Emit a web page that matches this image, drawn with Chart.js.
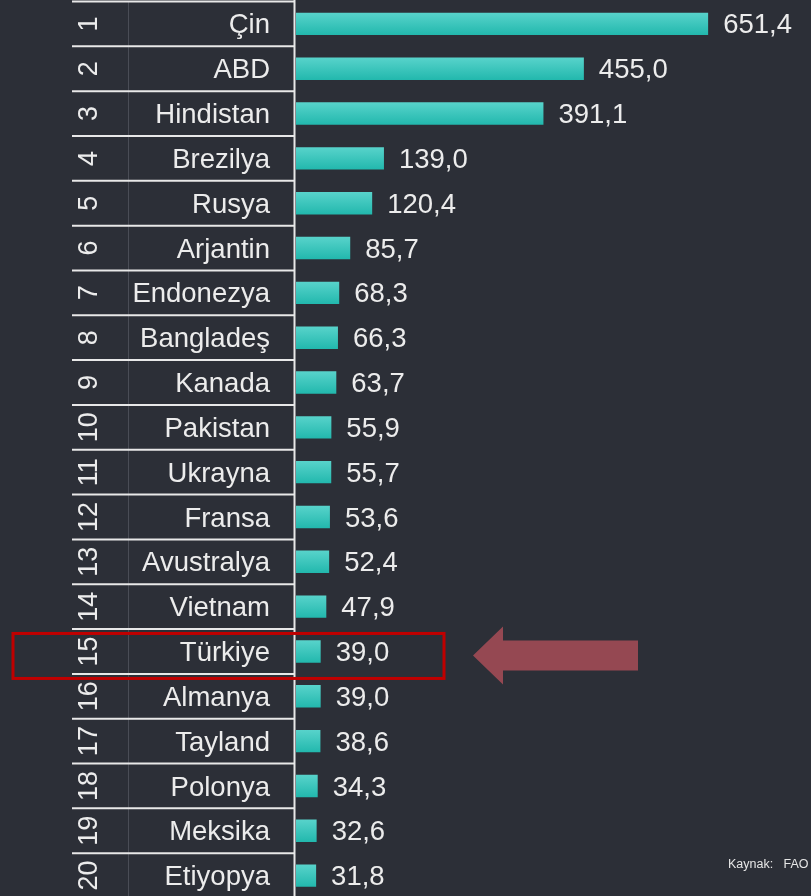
<!DOCTYPE html>
<html>
<head>
<meta charset="utf-8">
<script src="https://cdn.jsdelivr.net/npm/chart.js@4/dist/chart.umd.min.js"></script>
<style>
  html, body { margin: 0; padding: 0; background: #2c2f37; overflow: hidden; }
  canvas { display: block; }
</style>
</head>
<body>
<canvas id="chart" width="811" height="898"></canvas>
<script>
let ranks = ["1","2","3","4","5","6","7","8","9","10","11","12","13","14","15","16","17","18","19","20"];
let countries = ["Çin","ABD","Hindistan","Brezilya","Rusya","Arjantin","Endonezya","Bangladeş","Kanada","Pakistan",
  "Ukrayna","Fransa","Avustralya","Vietnam","Türkiye","Almanya","Tayland","Polonya","Meksika","Etiyopya"];
let values = [651.4, 455.0, 391.1, 139.0, 120.4, 85.7, 68.3, 66.3, 63.7, 55.9,
  55.7, 53.6, 52.4, 47.9, 39.0, 39.0, 38.6, 34.3, 32.6, 31.8];
let highlight = "Türkiye";
let source = "Kaynak:   FAO";

const textColor = "#ececec";
const font = "Arial, 'Liberation Sans', sans-serif";

function fmt(v) {
  return v.toFixed(1).replace(".", ",");
}

/* gradient per bar, top lighter */
function barFill(ctx) {
  let chart = ctx.chart;
  let y = chart.scales.y;
  if (!y || ctx.dataIndex === undefined) return "#3cc6bd";
  let yc = y.getPixelForValue(ctx.dataIndex);
  if (!isFinite(yc)) return "#3cc6bd";
  let h = 11.2;
  let g = chart.ctx.createLinearGradient(0, yc - h, 0, yc + h);
  g.addColorStop(0, "#58d3cb");
  g.addColorStop(1, "#22b8ad");
  return g;
}

const sidePlugin = {
  id: "side",
  beforeDraw(chart) {
    let c = chart.ctx;
    c.save();
    c.fillStyle = "#2c2f37";
    c.fillRect(0, 0, chart.width, chart.height);
    c.restore();
  },
  afterDraw(chart) {
    let c = chart.ctx;
    let y = chart.scales.y;
    let x = chart.scales.x;
    let area = chart.chartArea;
    let step = y.getPixelForValue(1) - y.getPixelForValue(0);
    c.save();

    // faint divider between rank and name
    c.strokeStyle = "#4a4d56";
    c.lineWidth = 1;
    c.beginPath();
    c.moveTo(128.5, area.top);
    c.lineTo(128.5, chart.height);
    c.stroke();

    // row lines
    c.strokeStyle = "#e8e8e8";
    c.lineWidth = 2;
    for (let i = 0; i <= countries.length; i++) {
      let yy = y.getPixelForValue(i) - step / 2;
      c.beginPath();
      c.moveTo(72, yy);
      c.lineTo(295, yy);
      c.stroke();
    }
    // axis line
    c.beginPath();
    c.moveTo(294.5, 0);
    c.lineTo(294.5, chart.height);
    c.stroke();

    c.fillStyle = textColor;
    c.textBaseline = "middle";
    countries.forEach((name, i) => {
      let yc = y.getPixelForValue(i);
      // country
      c.font = "27.5px " + font;
      c.textAlign = "right";
      c.fillText(name, 270, yc + 2);
      // value
      c.textAlign = "left";
      c.fillText(fmt(values[i]), x.getPixelForValue(values[i]) + 15, yc + 2);
      // rank, rotated
      c.save();
      c.translate(89, yc);
      c.rotate(-Math.PI / 2);
      c.textAlign = "center";
      c.font = "27px " + font;
      c.fillText(ranks[i], 0, 1);
      c.restore();
    });

    // highlight box + arrow
    let hi = countries.indexOf(highlight);
    if (hi >= 0) {
      let yc = y.getPixelForValue(hi);
      c.strokeStyle = "#c00000";
      c.lineWidth = 3;
      c.strokeRect(13, yc - 18, 431, 45);

      let ay = yc + 4;
      c.fillStyle = "#954852";
      c.beginPath();
      c.moveTo(473, ay);
      c.lineTo(503, ay - 29);
      c.lineTo(503, ay - 15);
      c.lineTo(638, ay - 15);
      c.lineTo(638, ay + 15);
      c.lineTo(503, ay + 15);
      c.lineTo(503, ay + 29);
      c.closePath();
      c.fill();
    }

    // source
    c.fillStyle = "#e6e6e6";
    c.font = "12.5px " + font;
    c.textAlign = "left";
    c.textBaseline = "alphabetic";
    c.fillText(source, 728, 868);
    c.restore();
  }
};

new Chart(document.getElementById("chart"), {
  type: "bar",
  data: {
    labels: countries,
    datasets: [{
      data: values,
      backgroundColor: barFill,
      borderWidth: 0,
      barPercentage: 0.5,
      categoryPercentage: 1
    }]
  },
  options: {
    indexAxis: "y",
    responsive: false,
    animation: false,
    devicePixelRatio: 1,
    layout: { padding: { left: 296, right: 0, top: 1.5, bottom: 0 } },
    scales: {
      x: { display: false, min: 0, max: 814 },
      y: { display: false, offset: true }
    },
    plugins: {
      legend: { display: false },
      tooltip: { enabled: false }
    }
  },
  plugins: [sidePlugin]
});
</script>
</body>
</html>
